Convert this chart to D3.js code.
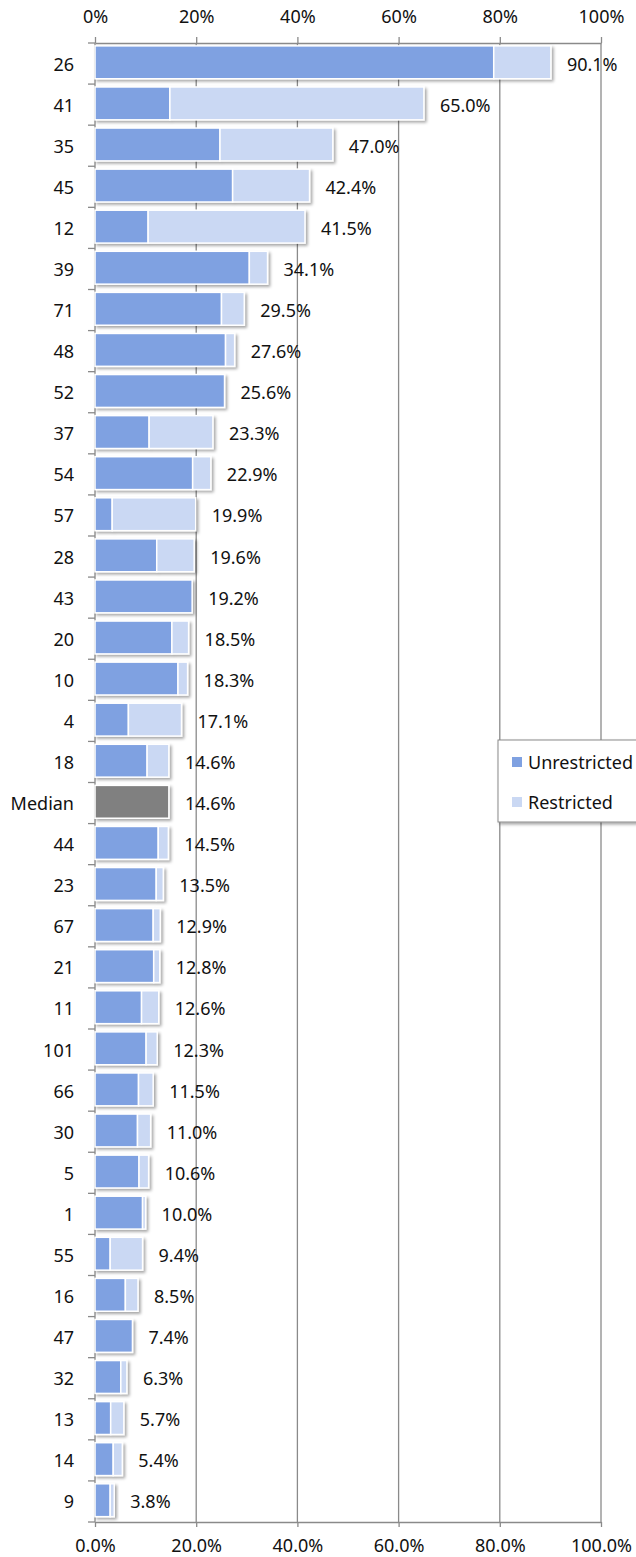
<!DOCTYPE html>
<html>
<head>
<meta charset="utf-8">
<script src="https://cdn.jsdelivr.net/npm/d3@7"></script>
<style>
	body { margin: 0; background: #fff; }
	svg { display: block; font-family: "Noto Sans", sans-serif; }
</style>
</head>
<body>
<svg id="chart" width="636" height="1557"></svg>
<script>

// categories, top to bottom
const categories = ["26", "41", "35", "45", "12", "39", "71", "48", "52", "37", "54", "57",
	"28", "43", "20", "10", "4", "18", "Median", "44", "23", "67", "21", "11", "101", "66",
	"30", "5", "1", "55", "16", "47", "32", "13", "14", "9"];

// percent values
const unrestricted = [78.8, 14.8, 24.7, 27.2, 10.5, 30.5, 25.0, 25.8, 25.6, 10.7, 19.3, 3.4,
	12.2, 19.2, 15.2, 16.4, 6.6, 10.3, 14.6, 12.5, 12.1, 11.5, 11.6, 9.2, 10.1, 8.6,
	8.4, 8.7, 9.4, 3.0, 6.0, 7.4, 5.1, 3.1, 3.6, 3.0];
const restricted = [11.3, 50.2, 22.3, 15.2, 31.0, 3.6, 4.5, 1.8, 0.0, 12.6, 3.6, 16.5,
	7.4, 0.0, 3.3, 1.9, 10.5, 4.3, 0.0, 2.0, 1.4, 1.4, 1.2, 3.4, 2.2, 2.9,
	2.6, 1.9, 0.6, 6.4, 2.5, 0.0, 1.2, 2.6, 1.8, 0.8];

const xTicks = [0, 20, 40, 60, 80, 100];
const seriesNames = ["Unrestricted", "Restricted"];
const seriesColors = ["#7fa1e1", "#cad8f3"];
const medianColor = "#808080";

const svg = d3.select("#chart");
const margin = { top: 43, left: 95, right: 35, bottom: 35 };
const plotW = 601 - margin.left;
const plotH = 1522 - margin.top;

const x = d3.scaleLinear().domain([0, 100]).range([margin.left, margin.left + plotW]);
const y = d3.scaleBand().domain(categories).range([margin.top, margin.top + plotH]).paddingInner(0.2).paddingOuter(0.1).align(0.35);
const yb = d3.scaleBand().domain(categories).range([margin.top, margin.top + plotH]);

const fmtTop = d => d + "%";
const fmtBot = d3.format(".1f");

// shadow filter
const defs = svg.append("defs");
const shadow = defs.append("filter").attr("id", "shadow")
	.attr("x", "-10%").attr("y", "-20%").attr("width", "130%").attr("height", "160%");
shadow.append("feDropShadow").attr("dx", 2).attr("dy", 2).attr("stdDeviation", 1.4)
	.attr("flood-color", "#000").attr("flood-opacity", 0.35);

const gridColor = "#8a8a8a";

// gridlines
svg.append("g").selectAll("line").data(xTicks.slice(1)).join("line")
	.attr("x1", d => x(d)).attr("x2", d => x(d))
	.attr("y1", margin.top).attr("y2", margin.top + plotH)
	.attr("stroke", gridColor).attr("stroke-width", 1.3);

// top axis
const topAxis = svg.append("g").attr("transform", `translate(0,${margin.top})`)
	.call(d3.axisTop(x).tickValues(xTicks).tickFormat(fmtTop).tickSize(6).tickSizeOuter(0));
// bottom axis
const botAxis = svg.append("g").attr("transform", `translate(0,${margin.top + plotH})`)
	.call(d3.axisBottom(x).tickValues(xTicks).tickFormat(d => fmtBot(d) + "%").tickSize(5).tickSizeOuter(0));
[topAxis, botAxis].forEach(g => {
	g.select(".domain").attr("stroke", gridColor).attr("stroke-width", 1.3);
	g.selectAll(".tick line").attr("stroke", gridColor).attr("stroke-width", 1.3);
	g.selectAll("text").attr("font-size", 18).attr("fill", "#111").attr("font-family", "Noto Sans, sans-serif");
});
topAxis.selectAll("text").attr("y", -20);
botAxis.selectAll("text").attr("y", 17).attr("dy", "0.71em");

// y axis
const yAxisG = svg.append("g");
yAxisG.append("line").attr("x1", margin.left).attr("x2", margin.left)
	.attr("y1", margin.top).attr("y2", margin.top + plotH)
	.attr("stroke", gridColor).attr("stroke-width", 1.3);
yAxisG.selectAll("line.tk").data(d3.range(categories.length + 1)).join("line")
	.attr("class", "tk")
	.attr("x1", margin.left - 7).attr("x2", margin.left)
	.attr("y1", i => margin.top + i * yb.step()).attr("y2", i => margin.top + i * yb.step())
	.attr("stroke", gridColor).attr("stroke-width", 1.3);
yAxisG.selectAll("text").data(categories).join("text")
	.attr("x", 74).attr("y", d => yb(d) + yb.bandwidth() / 2 + 7)
	.attr("text-anchor", "end").attr("font-size", 18).attr("fill", "#111")
	.text(d => d);

// bars
const rows = categories.map((c, i) => ({ cat: c, u: unrestricted[i], r: restricted[i] }));
const barG = svg.append("g");
rows.forEach(row => {
	const g = barG.append("g").attr("filter", "url(#shadow)");
	const isMedian = row.cat === "Median";
	g.append("rect")
		.attr("x", x(0)).attr("y", y(row.cat))
		.attr("width", x(row.u) - x(0)).attr("height", y.bandwidth())
		.attr("fill", isMedian ? medianColor : seriesColors[0])
		.attr("stroke", "#fff").attr("stroke-width", 1.5);
	if (row.r > 0) {
		g.append("rect")
			.attr("x", x(row.u)).attr("y", y(row.cat))
			.attr("width", x(row.u + row.r) - x(row.u)).attr("height", y.bandwidth())
			.attr("fill", seriesColors[1])
			.attr("stroke", "#fff").attr("stroke-width", 1.5);
	}
});

// value labels
svg.append("g").selectAll("text").data(rows).join("text")
	.attr("x", d => x(d.u + d.r) + 16)
	.attr("y", d => yb(d.cat) + yb.bandwidth() / 2 + 7)
	.attr("font-size", 18).attr("fill", "#111")
	.text(d => d3.format(".1f")(d.u + d.r) + "%");

// legend
const leg = svg.append("g").attr("transform", "translate(498,740)");
leg.append("rect").attr("width", 160).attr("height", 82)
	.attr("fill", "#fff").attr("stroke", gridColor).attr("stroke-width", 1)
	.attr("filter", "url(#shadow)");
seriesNames.forEach((name, i) => {
	const item = leg.append("g").attr("transform", `translate(0,${22 + i * 40})`);
	item.append("rect").attr("x", 14).attr("y", -5).attr("width", 10).attr("height", 10)
		.attr("fill", seriesColors[i]);
	item.append("text").attr("x", 30).attr("y", 7).attr("font-size", 18).attr("fill", "#111").text(name);
});

</script>
</body>
</html>
